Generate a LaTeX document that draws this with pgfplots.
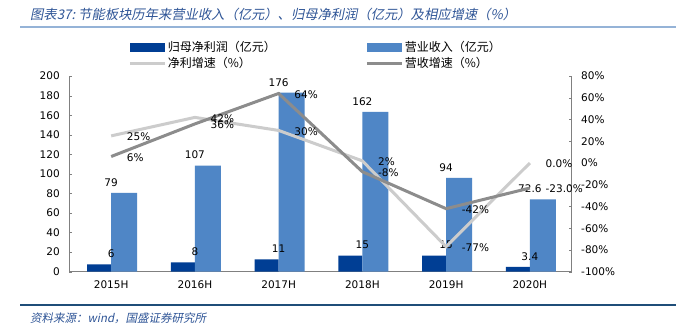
\documentclass[border=0pt]{standalone}
\usepackage{pgfplots}
\pgfplotsset{compat=1.18}
\usepackage{fontspec}
\setmainfont{DejaVu Sans}
\newfontfamily\cjk{Noto Sans CJK SC}
\newfontfamily\cjkit[FakeSlant=0.2]{Noto Sans CJK SC}
\definecolor{darkbar}{HTML}{003E94}
\definecolor{lightbar}{HTML}{4F86C6}
\definecolor{lightline}{HTML}{CCCCCC}
\definecolor{darkline}{HTML}{8C8C8C}
\definecolor{titleblue}{HTML}{2F5597}
\definecolor{rulelight}{HTML}{95B3D7}
\definecolor{ruledark}{HTML}{1F4E79}
\definecolor{axisgray}{HTML}{808080}
\begin{document}
\begin{tikzpicture}[x=1bp,y=1bp]
\useasboundingbox (0,0) rectangle (676,329);
\fill[white] (0,0) rectangle (676,329);
\node[anchor=west,inner sep=0,text=titleblue,font=\cjkit\fontsize{13.3bp}{15bp}\selectfont] at (30,315) {图表37:\ 节能板块历年来营业收入（亿元）、归母净利润（亿元）及相应增速（\%）};
\draw[rulelight,line width=1.6bp] (20,302) -- (676,302);
\draw[ruledark,line width=1.2bp] (20,24) -- (676,24);
\node[anchor=west,inner sep=0,text=titleblue,font=\cjkit\fontsize{11.5bp}{13bp}\selectfont] at (30,11) {资料来源：wind，国盛证券研究所};

\begin{axis}[
  at={(69.3bp,57.3bp)}, anchor=south west,
  scale only axis, width=502.4bp, height=195.6bp,
  xmin=-0.5, xmax=5.5, ymin=0, ymax=200,
  axis lines*=left,
  axis line style={axisgray, line width=0.8bp},
  xtick={0,...,5},
  xticklabels={2015H,2016H,2017H,2018H,2019H,2020H},
  x tick style={draw=none},
  minor xtick={0.5,1.5,2.5,3.5,4.5},
  minor x tick style={axisgray},
  minor tick length=4bp,
  ytick={0,20,...,200},
  y tick style={axisgray},
  major tick length=3bp,
  tick align=inside,
  /pgf/number format/assume math mode=true,
  ticklabel style={font=\fontsize{10.5bp}{12bp}\selectfont, text=black},
  xticklabel style={yshift=-5bp},
  yticklabel style={xshift=-6bp},
  nodes near coords style={font=\fontsize{10.5bp}{12bp}\selectfont, text=black, yshift=3bp},
  legend columns=2,
  legend style={at={(0.117,1.185)}, anchor=north west, draw=none, fill=none,
    inner sep=0pt, row sep=1bp,
    font=\cjk\fontsize{12bp}{13bp}\selectfont,
    nodes={inner sep=1.5bp, anchor=west}},
  legend cell align=left,
]
\addplot[ybar, bar width=24bp, bar shift=-12bp, fill=darkbar, draw=none,
  nodes near coords, point meta=explicit symbolic,
  legend image code/.code={\fill[darkbar] (0bp,-4.5bp) rectangle (35bp,4.5bp);}]
  table[meta=lab] {
x y lab
0 7.5 6
1 9.5 8
2 12.5 11
3 16.5 15
4 16.5 15
5 5 3.4
};
\addlegendentry{\makebox[196bp][l]{归母净利润（亿元）}}
\addplot[ybar, bar width=26bp, bar shift=13bp, fill=lightbar, draw=none,
  nodes near coords, point meta=explicit symbolic,
  legend image code/.code={\fill[lightbar] (0bp,-4.5bp) rectangle (35bp,4.5bp);}]
  table[meta=lab] {
x y lab
0 80.5 79
1 108.5 107
2 183 176
3 163.5 162
4 96 94
5 74 72.6
};
\addlegendentry{营业收入（亿元）}
\addlegendimage{legend image code/.code={\draw[lightline,line width=3bp] (0bp,0bp) -- (35bp,0bp);}}
\addlegendentry{净利增速（\%）}
\addlegendimage{legend image code/.code={\draw[darkline,line width=3bp] (0bp,0bp) -- (35bp,0bp);}}
\addlegendentry{营收增速（\%）}
\end{axis}

\begin{axis}[
  at={(69.3bp,57.3bp)}, anchor=south west,
  scale only axis, width=502.4bp, height=195.6bp,
  xmin=-0.5, xmax=5.5, ymin=-100, ymax=80,
  axis y line*=right, axis x line=none,
  axis line style={axisgray, line width=0.8bp},
  ytick={-100,-80,...,80},
  /pgf/number format/assume math mode=true,
  yticklabel={\pgfmathprintnumber{\tick}\%},
  y tick style={axisgray},
  major tick length=3bp,
  tick align=inside,
  ticklabel style={font=\fontsize{10.5bp}{12bp}\selectfont, text=black},
  yticklabel style={xshift=6bp},
  nodes near coords style={font=\fontsize{10.5bp}{12bp}\selectfont, text=black, anchor=west, xshift=11bp, yshift=-1bp},
]
\addplot[lightline, line width=3bp, nodes near coords, point meta=explicit symbolic]
  table[meta=lab] {
x y lab
0 25 25\%
1 42 42\%
2 30 30\%
3 2 2\%
4 -77 -77\%
5 0 0.0\%
};
\addplot[darkline, line width=3bp, nodes near coords, point meta=explicit symbolic]
  table[meta=lab] {
x y lab
0 6 6\%
1 36 36\%
2 64 64\%
3 -8 -8\%
4 -42 -42\%
5 -23 -23.0\%
};
\end{axis}
\end{tikzpicture}
\end{document}
